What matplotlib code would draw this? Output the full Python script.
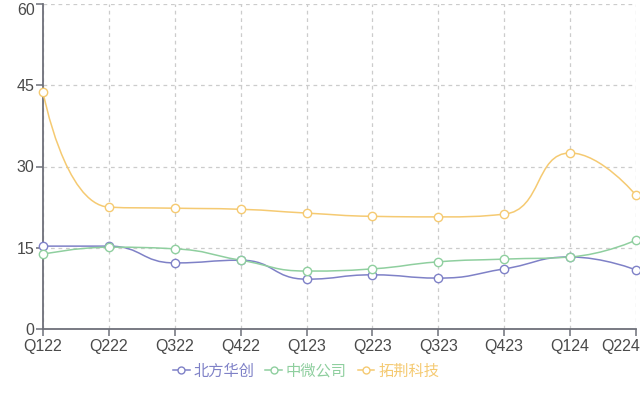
import matplotlib
matplotlib.use("Agg")
import matplotlib.pyplot as plt
from matplotlib.path import Path
from matplotlib.patches import PathPatch
from matplotlib.lines import Line2D
import matplotlib.transforms as mtrans
import numpy as np

plt.rcParams['font.family'] = ['Noto Sans CJK SC', 'DejaVu Sans']

quarters = ["Q122", "Q222", "Q322", "Q422", "Q123", "Q223", "Q323", "Q423", "Q124", "Q224"]
naura = [15.3, 15.3, 12.2, 12.7, 9.2, 10.0, 9.4, 11.1, 13.3, 10.9]
amec = [13.8, 15.1, 14.8, 12.7, 10.7, 11.1, 12.4, 12.9, 13.3, 16.4]
piotech = [43.7, 22.5, 22.3, 22.1, 21.4, 20.8, 20.7, 21.2, 32.5, 24.7]
series_names = ["北方华创", "中微公司", "拓荆科技"]
colors = ["#7f81c7", "#8fcf9f", "#f5ca72"]
y_ticks = [0, 15, 30, 45, 60]

W, H, DPI = 640, 399, 100
fig = plt.figure(figsize=(W / DPI, H / DPI), dpi=DPI)
ax = fig.add_axes([43 / W, 70 / H, (636 - 43) / W, (329 - 4) / H])

ax.set_xlim(0, len(quarters) - 1)
ax.set_ylim(0, 60)

# pixel scaling for smoothing (echarts-style)
SX = (636 - 43) / (len(quarters) - 1)
SY = (329 - 4) / 60.0


def smooth_path(xs, ys, smooth=0.5):
    px = [x * SX for x in xs]
    py = [y * SY for y in ys]
    n = len(px)
    verts = [(px[0], py[0])]
    codes = [Path.MOVETO]
    cpx0, cpy0 = px[0], py[0]
    for i in range(1, n):
        x, y = px[i], py[i]
        prevX, prevY = px[i - 1], py[i - 1]
        if i + 1 >= n:
            cpx1, cpy1 = x, y
            nextCpx0, nextCpy0 = x, y
        else:
            nextX, nextY = px[i + 1], py[i + 1]
            vx = nextX - prevX
            vy = nextY - prevY
            dx0, dy0 = x - prevX, y - prevY
            dx1, dy1 = nextX - x, nextY - y
            lp = np.hypot(dx0, dy0)
            ln = np.hypot(dx1, dy1)
            r = ln / (ln + lp)
            nextCpx0 = x + vx * smooth * r
            nextCpy0 = y + vy * smooth * r
            nextCpx0 = min(nextCpx0, max(nextX, x))
            nextCpy0 = min(nextCpy0, max(nextY, y))
            nextCpx0 = max(nextCpx0, min(nextX, x))
            nextCpy0 = max(nextCpy0, min(nextY, y))
            vx = nextCpx0 - x
            vy = nextCpy0 - y
            cpx1 = x - vx * lp / ln
            cpy1 = y - vy * lp / ln
            cpx1 = min(cpx1, max(prevX, x))
            cpy1 = min(cpy1, max(prevY, y))
            cpx1 = max(cpx1, min(prevX, x))
            cpy1 = max(cpy1, min(prevY, y))
            vx = x - cpx1
            vy = y - cpy1
            nextCpx0 = x + vx * ln / lp
            nextCpy0 = y + vy * ln / lp
        verts += [(cpx0, cpy0), (cpx1, cpy1), (x, y)]
        codes += [Path.CURVE4] * 3
        cpx0, cpy0 = nextCpx0, nextCpy0
    verts = [(vx_ / SX, vy_ / SY) for vx_, vy_ in verts]
    return Path(verts, codes)


xs = list(range(len(quarters)))
for vals, c in zip([naura, amec, piotech], colors):
    p = smooth_path(xs, vals)
    ax.add_patch(PathPatch(p, facecolor='none', edgecolor=c, lw=1.1, zorder=3, clip_on=False))
    ax.plot(xs, vals, linestyle='none', marker='o', markersize=6, markerfacecolor='white',
            markeredgecolor=c, markeredgewidth=1.0, zorder=4, clip_on=False)

# grid / axes
ax.set_xticks(xs)
ax.set_xticklabels(quarters)
ax.set_yticks(y_ticks)
ax.set_yticklabels([str(v) for v in y_ticks])
ax.grid(True, linestyle=(0, (3, 3)), color='#cccccc', linewidth=0.9, zorder=0)
ax.set_axisbelow(True)
for s in ['top', 'right']:
    ax.spines[s].set_visible(False)
for s in ['left', 'bottom']:
    ax.spines[s].set_color('#6e7079')
    ax.spines[s].set_linewidth(1.3)
ax.tick_params(axis='both', colors='#6e7079', length=5, width=1.1, labelsize=11.5,
               labelcolor='#4a4a4a', pad=2)
ax.tick_params(axis='y', pad=1)
for lab in ax.get_xticklabels() + ax.get_yticklabels():
    lab.set_fontfamily(['Liberation Sans', 'DejaVu Sans'])

xl = ax.get_xticklabels()
xl[-1].set_ha('right')
xl[-1].set_transform(xl[-1].get_transform() + mtrans.ScaledTranslation(4 / DPI, 0, fig.dpi_scale_trans))
yl = ax.get_yticklabels()
yl[-1].set_va('top')
yl[-1].set_transform(yl[-1].get_transform() + mtrans.ScaledTranslation(0, 1 / DPI, fig.dpi_scale_trans))

handles = [Line2D([0], [0], color=c, lw=1.1, marker='o', markersize=5, markerfacecolor='white',
                  markeredgecolor=c, markeredgewidth=1.0) for c in colors]
fig.legend(handles, series_names, loc='center', bbox_to_anchor=(306 / W, 1 - 371 / H), ncol=3,
           frameon=False, fontsize=11, labelcolor=colors, handlelength=1.1, handletextpad=0.25,
           columnspacing=0.7)

fig.savefig("out.png", dpi=DPI)
